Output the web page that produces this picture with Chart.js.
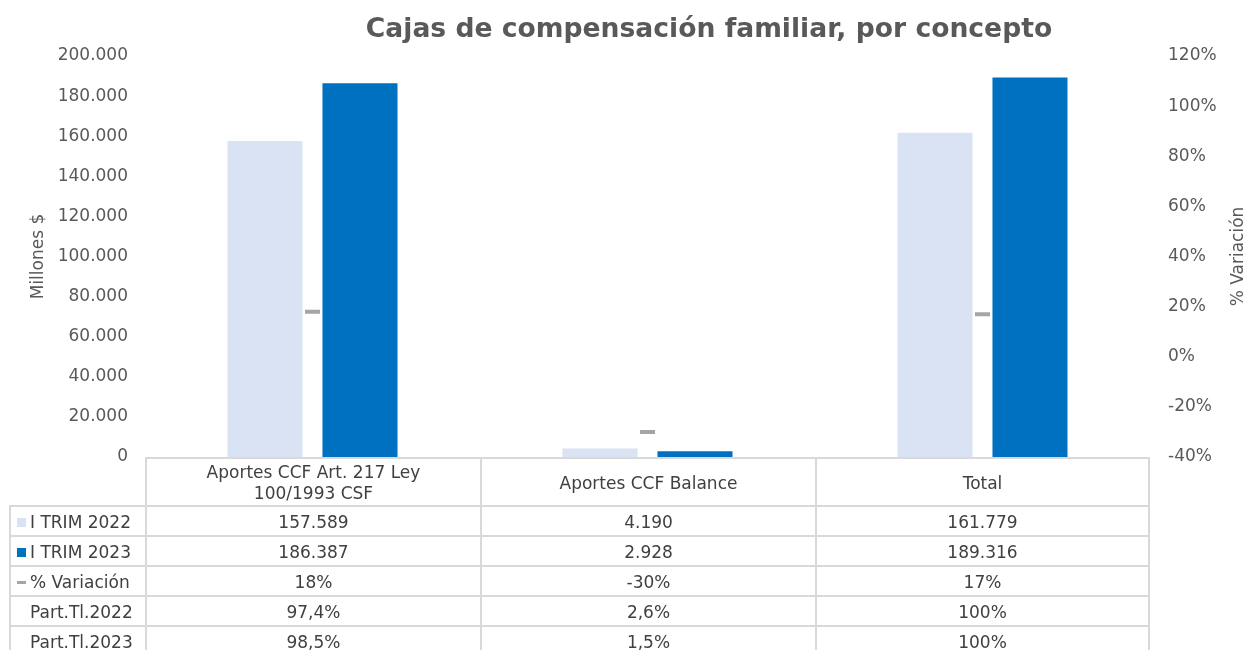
<!DOCTYPE html>
<html>
<head>
<meta charset="utf-8">
<script src="https://cdn.jsdelivr.net/npm/chart.js@4.4.1/dist/chart.umd.min.js"></script>
<style>
  html, body { margin: 0; padding: 0; background: #fff; }
  #wrap { position: relative; width: 1248px; height: 650px; overflow: hidden; font-family: 'DejaVu Sans', Verdana, sans-serif; }
  #titulo { position: absolute; top: 12px; left: 709px; transform: translateX(-50%); white-space: nowrap;
    font-size: 26.6px; font-weight: bold; color: #595959; line-height: 32px; }
  .celda { position: absolute; box-sizing: border-box; border-left: 2px solid #d9d9d9; border-top: 2px solid #d9d9d9;
    display: flex; align-items: center; justify-content: center; text-align: center; font-size: 17px; color: #404040; line-height: 21px; }
  .celda.etiqueta { justify-content: flex-start; padding-left: 6px; }
  .marca { display: inline-block; width: 9px; height: 9px; margin-right: 4px; }
</style>
</head>
<body>
<div id="wrap">
  <canvas id="cajasChart" width="1248" height="650"></canvas>
  <div id="titulo">Cajas de compensación familiar, por concepto</div>
  <div id="tabla"></div>
</div>
<script>
// Datos (millones de pesos)
const categorias = [['Aportes CCF Art. 217 Ley', '100/1993 CSF'], 'Aportes CCF Balance', 'Total'];
const trim2022 = [157589, 4190, 161779];
const trim2023 = [186387, 2928, 189316];
const variacion = [0.18, -0.30, 0.17];
const partTl2022 = ['97,4%', '2,6%', '100%'];
const partTl2023 = ['98,5%', '1,5%', '100%'];

const colores = { t2022: '#dae3f3', t2023: '#0070c0', variacion: '#a5a5a5' };

function miles(v) {
  return String(Math.round(v)).replace(/\B(?=(\d{3})+(?!\d))/g, '.');
}
function pct(v) {
  return Math.round(v * 100) + '%';
}

Chart.defaults.font.family = "'DejaVu Sans', Verdana, sans-serif";
Chart.defaults.font.size = 17;
Chart.defaults.color = '#595959';

// tabla de datos debajo del eje, alineada con las categorias
const filas = [
  { nombre: 'I TRIM 2022', marca: 'cuadro', color: colores.t2022, valores: trim2022.map(miles) },
  { nombre: 'I TRIM 2023', marca: 'cuadro', color: colores.t2023, valores: trim2023.map(miles) },
  { nombre: '% Variación', marca: 'raya', color: colores.variacion, valores: variacion.map(pct) },
  { nombre: 'Part.Tl.2022', marca: null, valores: partTl2022 },
  { nombre: 'Part.Tl.2023', marca: null, valores: partTl2023 }
];

function armarTabla(chart) {
  const tabla = document.getElementById('tabla');
  tabla.innerHTML = '';
  const x = chart.scales.x;
  const area = chart.chartArea;
  const paso = x.getPixelForValue(1) - x.getPixelForValue(0);
  const izqTabla = 9;
  const altoCab = 48, altoFila = 30;
  const celda = (l, t, w, h, html, cls) => {
    const d = document.createElement('div');
    d.className = 'celda' + (cls ? ' ' + cls : '');
    d.style.left = l + 'px'; d.style.top = t + 'px';
    d.style.width = w + 'px'; d.style.height = h + 'px';
    d.innerHTML = html;
    tabla.appendChild(d);
    return d;
  };
  categorias.forEach((c, i) => {
    const l = x.getPixelForValue(i) - paso / 2;
    const d = celda(l, area.bottom, paso, altoCab + 2, Array.isArray(c) ? c.join('<br>') : c);
    if (i === categorias.length - 1) d.style.borderRight = '2px solid #d9d9d9';
  });
  filas.forEach((f, r) => {
    const t = area.bottom + altoCab + r * altoFila;
    let m = '';
    if (f.marca === 'cuadro') m = '<span class="marca" style="background:' + f.color + '"></span>';
    if (f.marca === 'raya') m = '<span class="marca" style="height:3px;background:' + f.color + '"></span>';
    if (!f.marca) m = '<span class="marca"></span>';
    celda(izqTabla, t, area.left - izqTabla, altoFila + 2, m + f.nombre, 'etiqueta');
    f.valores.forEach((v, i) => {
      const l = x.getPixelForValue(i) - paso / 2;
      const d = celda(l, t, paso, altoFila + 2, v);
      if (i === f.valores.length - 1) d.style.borderRight = '2px solid #d9d9d9';
    });
  });
}

const tituloDerecho = {
  id: 'tituloDerecho',
  afterDraw(chart) {
    const ctx = chart.ctx;
    const a = chart.chartArea;
    ctx.save();
    ctx.translate(1239, (a.top + a.bottom) / 2);
    ctx.rotate(-Math.PI / 2);
    ctx.font = "17px 'DejaVu Sans', Verdana, sans-serif";
    ctx.fillStyle = '#595959';
    ctx.textAlign = 'center';
    ctx.textBaseline = 'middle';
    ctx.fillText('% Variación', 0, 0);
    ctx.restore();
  }
};

const tablaPlugin = {
  id: 'tablaPlugin',
  afterRender(chart) { armarTabla(chart); }
};

new Chart(document.getElementById('cajasChart'), {
  type: 'bar',
  data: {
    labels: categorias,
    datasets: [
      {
        type: 'line',
        label: '% Variación',
        data: variacion,
        yAxisID: 'y1',
        showLine: false,
        pointStyle: 'line',
        pointRadius: 7.5,
        pointHoverRadius: 7.5,
        pointBorderWidth: 4,
        pointBorderColor: colores.variacion,
        pointBackgroundColor: colores.variacion,
        order: 0
      },
      {
        label: 'I TRIM 2022',
        data: trim2022,
        backgroundColor: colores.t2022,
        categoryPercentage: 0.567,
        barPercentage: 0.79,
        order: 1
      },
      {
        label: 'I TRIM 2023',
        data: trim2023,
        backgroundColor: colores.t2023,
        categoryPercentage: 0.567,
        barPercentage: 0.79,
        order: 1
      }
    ]
  },
  options: {
    responsive: false,
    animation: false,
    layout: { padding: { top: 56, bottom: 193, left: 0, right: 0 } },
    plugins: {
      legend: { display: false },
      tooltip: { enabled: false }
    },
    scales: {
      x: { display: false },
      y: {
        position: 'left',
        min: 0,
        max: 200000,
        grid: { display: false, drawTicks: false },
        border: { display: false },
        ticks: { stepSize: 20000, padding: 17, callback: v => miles(v) },
        title: { display: true, text: 'Millones $', padding: { top: 28, bottom: 0 } },
        afterFit(s) { s.width = 145; }
      },
      y1: {
        position: 'right',
        min: -0.4,
        max: 1.2,
        grid: { display: false, drawTicks: false },
        border: { display: false },
        ticks: { stepSize: 0.2, padding: 18, callback: v => pct(v) },
        afterFit(s) { s.width = 98; }
      }
    }
  },
  plugins: [tituloDerecho, tablaPlugin]
});
</script>
</body>
</html>
